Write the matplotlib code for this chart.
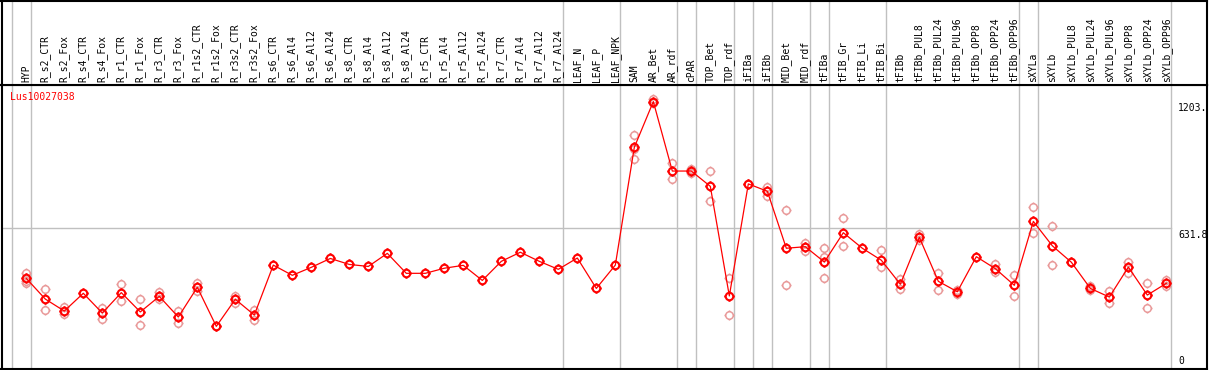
import numpy as np
import matplotlib
matplotlib.use("Agg")
import matplotlib.pyplot as plt
from matplotlib.path import Path

# column names
samples = ["HYP", "R_s2_CTR", "R_s2_Fox", "R_s4_CTR", "R_s4_Fox", "R_r1_CTR", "R_r1_Fox",
           "R_r3_CTR", "R_r3_Fox", "R_r1s2_CTR", "R_r1s2_Fox", "R_r3s2_CTR", "R_r3s2_Fox",
           "R_s6_CTR", "R_s6_Al4", "R_s6_Al12", "R_s6_Al24", "R_s8_CTR", "R_s8_Al4",
           "R_s8_Al12", "R_s8_Al24", "R_r5_CTR", "R_r5_Al4", "R_r5_Al12", "R_r5_Al24",
           "R_r7_CTR", "R_r7_Al4", "R_r7_Al12", "R_r7_Al24", "LEAF_N", "LEAF_P", "LEAF_NPK",
           "SAM", "AR_Bet", "AR_rdf", "cPAR", "TOP_Bet", "TOP_rdf", "iFIBa", "iFIBb",
           "MID_Bet", "MID_rdf", "tFIBa", "tFIB_Gr", "tFIB_Li", "tFIB_Bi", "tFIBb",
           "tFIBb_PUL8", "tFIBb_PUL24", "tFIBb_PUL96", "tFIBb_OPP8", "tFIBb_OPP24",
           "tFIBb_OPP96", "sXYLa", "sXYLb", "sXYLb_PUL8", "sXYLb_PUL24", "sXYLb_PUL96",
           "sXYLb_OPP8", "sXYLb_OPP24", "sXYLb_OPP96"]

means = [406, 313, 259, 339, 250, 342, 255, 325, 232, 366, 190, 312, 241,
         466, 420, 456, 496, 469, 460, 519, 429, 429, 452, 465, 397, 483, 524, 483, 447,
         498, 361, 466, 997, 1203, 890, 890, 821, 327, 832, 799, 542, 549, 480, 612, 542,
         488, 380, 591, 393, 346, 504, 450, 375, 663, 553, 479, 361, 322, 457, 331, 384]

reps = [[429, 394, 384], [357, 264], [278, 244], [], [274, 222], [379, 303], [312, 195],
        [345, 312], [259, 204], [387, 351], [190], [325, 295], [264, 219],
        [], [], [], [], [], [], [], [], [], [], [], [], [], [], [], [], [], [], [],
        [1051, 946, 990], [1215, 1195], [925, 855], [900, 880], [890, 754], [406, 240],
        [832], [819, 778], [714, 375], [567, 530], [543, 501, 406], [678, 552], [],
        [533, 456], [405, 360], [608, 579], [429, 352], [352, 338], [], [471, 435],
        [423, 325], [726, 609], [644, 465], [479], [370, 352], [349, 295], [481, 429],
        [384, 271], [399, 372]]

# last column of each group
group_ends = [-1, 0, 28, 31, 34, 35, 37, 38, 39, 41, 42, 45, 52, 53, 60]

gene = "Lus10027038"
mid_tick = 631.8
top_tick = 1203

W, H = 1209, 370
fig = plt.figure(figsize=(W / 100, H / 100), dpi=100)

x0, x1 = -1.305, 62.14
ymax = 1277.8

ax = fig.add_axes([1.5 / W, 1.5 / H, 1205.5 / W, 83.5 / H * 0 + (368.5 - 85) / H])
lab = fig.add_axes([1.5 / W, (H - 85) / H, 1205.5 / W, 84 / H])

# marker: circle with small ticks
circ = Path.unit_circle()
ticks = []
for a in (0, np.pi / 2, np.pi, 3 * np.pi / 2):
    c, s = np.cos(a), np.sin(a)
    ticks.append(Path([(c, s), (1.35 * c, 1.35 * s)], [Path.MOVETO, Path.LINETO]))
gear = Path.make_compound_path(circ, *ticks)

xs = np.arange(len(samples))
for i, r in enumerate(reps):
    if r:
        ax.plot([i] * len(r), r, linestyle="none", marker=gear, ms=7.3,
                mfc="none", mec="#e99a9a", mew=1.1, zorder=3)
ax.plot(xs, means, color="red", lw=0.9, zorder=4)
ax.plot(xs, means, linestyle="none", marker=gear, ms=7.3, mfc="none",
        mec="red", mew=1.5, zorder=5)

for g in group_ends:
    ax.axvline(g + 0.23, color="#c0c0c0", lw=1, zorder=1)
    lab.axvline(g + 0.23, color="#c0c0c0", lw=1, zorder=1)

ax.plot([x0, group_ends[-1] + 0.23], [mid_tick, mid_tick], color="#c0c0c0", lw=1, zorder=1)

ax.set_xlim(x0, x1)
ax.set_ylim(0, ymax)
ax.set_xticks([])
ax.set_yticks([])
for s in ax.spines.values():
    s.set_linewidth(1.5)

tx = 60.62
ax.text(tx, top_tick - 6, "1203.", family="DejaVu Sans Mono", fontsize=7, va="top", ha="left")
ax.text(tx, mid_tick - 6, "631.8", family="DejaVu Sans Mono", fontsize=7, va="top", ha="left")
ax.text(tx, 12, "0", family="DejaVu Sans Mono", fontsize=7, va="bottom", ha="left")
fig.text(10 / W, (H - 92) / H, gene, color="red", family="DejaVu Sans Mono",
         fontsize=7, va="top", ha="left")

lab.set_xlim(x0, x1)
lab.set_ylim(0, 1)
lab.set_xticks([])
lab.set_yticks([])
for s in lab.spines.values():
    s.set_linewidth(1.5)
for i, name in enumerate(samples):
    lab.text(i, 0.03, name, rotation=90, ha="center", va="bottom",
             family="DejaVu Sans Mono", fontsize=7)

fig.savefig("out.png", dpi=100)
